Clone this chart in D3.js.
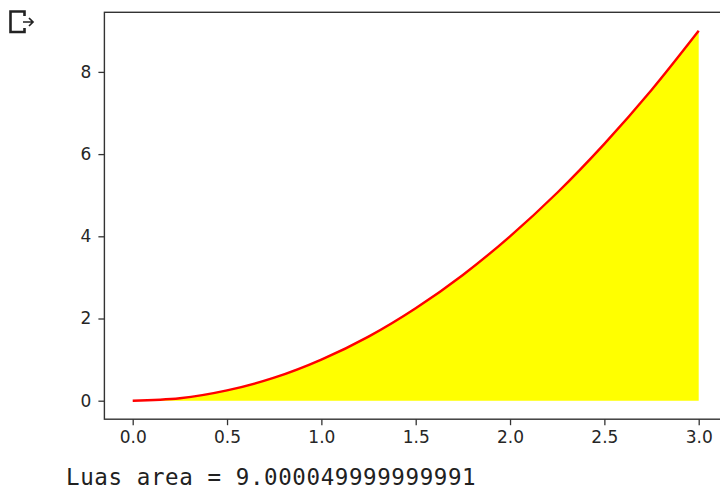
<!DOCTYPE html>
<html>
<head>
<meta charset="utf-8">
<script src="https://cdn.jsdelivr.net/npm/d3@7"></script>
<style>
  body { margin: 0; background: #fff; }
  svg { display: block; }
</style>
</head>
<body>
<div id="chart"></div>
<script>
// values
const xValues = [0, 0.25, 0.5, 0.75, 1.0, 1.25, 1.5, 1.75, 2.0, 2.25, 2.5, 2.75, 3.0];
const yValues = [0, 0.06, 0.25, 0.56, 1.0, 1.56, 2.25, 3.06, 4.0, 5.06, 6.25, 7.56, 9.0];
const xTicks = [0, 0.5, 1.0, 1.5, 2.0, 2.5, 3.0];
const yTicks = [0, 2, 4, 6, 8];
const outputText = "Luas area = 9.000049999999991";

const width = 720, height = 491;
const points = xValues.map((x, i) => ({x: x, y: yValues[i]}));

const svg = d3.select("#chart").append("svg")
    .attr("width", width)
    .attr("height", height);

// axes box (matplotlib style 5% margins)
const plotLeft = 104.4, plotRight = 727, plotTop = 12.3, plotBottom = 419.2;

const x = d3.scaleLinear().domain([-0.15, 3.15]).range([plotLeft, plotRight]);
const y = d3.scaleLinear().domain([-0.45, 9.45]).range([plotBottom, plotTop]);

// filled area under the curve
svg.append("path")
    .datum(points)
    .attr("fill", "#ffff00")
    .attr("d", d3.area()
        .x(d => x(d.x))
        .y0(y(0))
        .y1(d => y(d.y))
        .curve(d3.curveMonotoneX));

svg.append("path")
    .datum(points)
    .attr("fill", "none")
    .attr("stroke", "#ff0000")
    .attr("stroke-width", 2.4)
    .attr("d", d3.line()
        .x(d => x(d.x))
        .y(d => y(d.y))
        .curve(d3.curveMonotoneX));

// frame
svg.append("rect")
    .attr("x", plotLeft)
    .attr("y", plotTop)
    .attr("width", plotRight - plotLeft)
    .attr("height", plotBottom - plotTop)
    .attr("fill", "none")
    .attr("stroke", "#333")
    .attr("stroke-width", 1.4);

const xAxis = svg.append("g")
    .attr("transform", `translate(0,${plotBottom})`)
    .call(d3.axisBottom(x).tickValues(xTicks).tickFormat(d3.format(".1f")).tickSize(6).tickPadding(6));

const yAxis = svg.append("g")
    .attr("transform", `translate(${plotLeft},0)`)
    .call(d3.axisLeft(y).tickValues(yTicks).tickFormat(d3.format("d")).tickSize(6).tickPadding(7));

[xAxis, yAxis].forEach(g => {
    g.select(".domain").remove();
    g.selectAll("line").attr("stroke", "#333").attr("stroke-width", 1.3);
    g.selectAll("text")
        .attr("fill", "#262626")
        .style("font-family", "'DejaVu Sans', sans-serif")
        .style("font-size", "17px");
});

// output icon at the top left
svg.append("path")
    .attr("d", "M24.5,16 L24.5,11.5 L10.5,11.5 L10.5,32 L24.5,32 L24.5,28")
    .attr("fill", "none")
    .attr("stroke", "#222")
    .attr("stroke-width", 2.6);
svg.append("path")
    .attr("d", "M23,22 L33,22 M29,18 L33,22 L29,26")
    .attr("fill", "none")
    .attr("stroke", "#222")
    .attr("stroke-width", 1.7);

svg.append("text")
    .attr("x", 66)
    .attr("y", 485)
    .attr("fill", "#212121")
    .style("font-family", "'DejaVu Sans Mono', monospace")
    .style("font-size", "22.5px")
    .style("letter-spacing", "0.6px")
    .text(outputText);
</script>
</body>
</html>
